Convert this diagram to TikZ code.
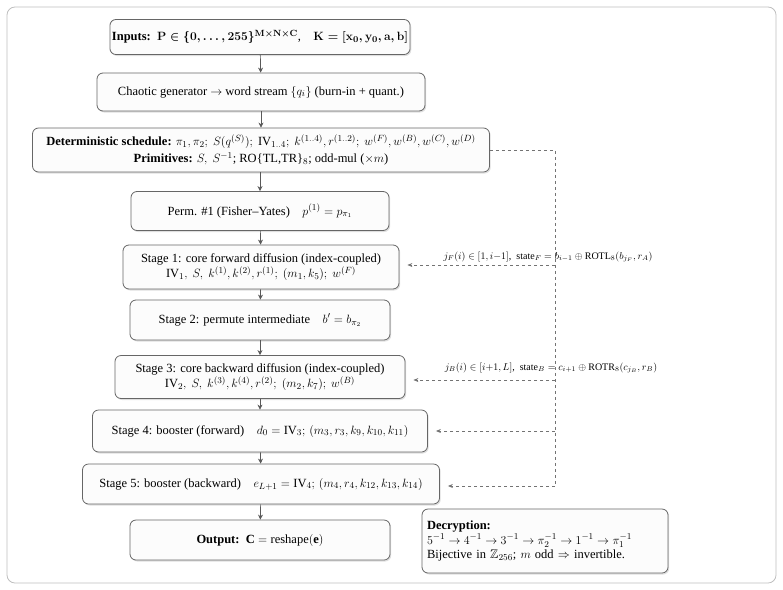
\documentclass[tikz,border=0pt]{standalone}
\usepackage{amssymb}
\usepackage{fontspec}
\setmainfont{Liberation Serif}
\usetikzlibrary{shadows,arrows.meta,calc}
\begin{document}
\begin{tikzpicture}[x=1pt,y=-1pt,
  box/.style={draw=black!60, line width=0.8pt, rounded corners=6pt, fill=black!1,
    drop shadow={opacity=0.25, shadow xshift=1.2pt, shadow yshift=-1.5pt},
    align=center, inner sep=2pt, font=\fontsize{12.5}{15}\selectfont},
  flow/.style={-{Stealth[length=5pt,width=5pt]}, draw=black!65, line width=0.7pt},
  sched/.style={dashed, draw=black!55, line width=0.7pt},
  schedarr/.style={sched, -{Stealth[length=5pt,width=4pt]}, shorten >=8pt},
  lab/.style={font=\fontsize{10}{11}\selectfont, inner sep=1pt}]
\useasboundingbox (0,0) rectangle (783,589);
\draw[black!25, line width=0.8pt, rounded corners=8pt] (7,7) rectangle (776,583);

\node[box, minimum width=296pt, minimum height=35pt] (in) at (260,37)
  {\textbf{Inputs:}\ \ {\boldmath$\mathbf{P}\in\{\mathbf{0},\ldots,\mathbf{255}\}^{\mathbf{M\times N\times C}}$},\quad {\boldmath$\mathbf{K}=[\mathbf{x_0},\mathbf{y_0},\mathbf{a},\mathbf{b}]$}};
\node[box, minimum width=328pt, minimum height=38pt] (gen) at (261,92)
  {Chaotic generator $\to$ word stream $\{q_i\}$ (burn-in + quant.)};
\node[box, minimum width=457pt, minimum height=44pt] (det) at (261,150)
  {\textbf{Deterministic schedule:} $\pi_1,\pi_2;\ S(q^{(S)});\ \mathrm{IV}_{1..4};\ k^{(1..4)}, r^{(1..2)};\ w^{(F)}, w^{(B)}, w^{(C)}, w^{(D)}$\\[1.5pt]
   \textbf{Primitives:} $S,\ S^{-1}$; RO\{TL,TR\}$_8$; odd-mul ($\times m$)};
\node[box, minimum width=258pt, minimum height=39pt] (perm) at (260,211)
  {Perm. \#1 (Fisher--Yates)\quad $p^{(1)}=p_{\pi_1}$};
\node[box, minimum width=276pt, minimum height=44pt] (s1) at (261,267)
  {Stage 1: core forward diffusion (index-coupled)\\
   $\mathrm{IV}_1,\ S,\ k^{(1)}, k^{(2)}, r^{(1)};\ (m_1,k_5);\ w^{(F)}$};
\node[box, minimum width=260pt, minimum height=40pt] (s2) at (260,320)
  {Stage 2: permute intermediate\quad $b'=b_{\pi_2}$};
\node[box, minimum width=290pt, minimum height=43pt] (s3) at (260,377)
  {Stage 3: core backward diffusion (index-coupled)\\
   $\mathrm{IV}_2,\ S,\ k^{(3)}, k^{(4)}, r^{(2)};\ (m_2,k_7);\ w^{(B)}$};
\node[box, minimum width=335pt, minimum height=42pt] (s4) at (260,431)
  {Stage 4: booster (forward)\quad $d_0=\mathrm{IV}_3;\,(m_3,r_3,k_9,k_{10},k_{11})$};
\node[box, minimum width=357pt, minimum height=40pt] (s5) at (261,484)
  {Stage 5: booster (backward)\quad $e_{L+1}=\mathrm{IV}_4;\,(m_4,r_4,k_{12},k_{13},k_{14})$};
\node[box, minimum width=260pt, minimum height=40pt] (out) at (260,540)
  {\textbf{Output:}\ \ $\mathbf{C}=\mathrm{reshape}(\mathbf{e})$};
\node[box, minimum width=246pt, minimum height=64pt, align=left, text width=236pt,
      font=\fontsize{12.5}{14.5}\selectfont] (dec) at (545,541)
  {\textbf{Decryption:}\\
   $5^{-1}\to4^{-1}\to3^{-1}\to\pi_2^{-1}\to1^{-1}\to\pi_1^{-1}$\\
   Bijective in $\mathbb{Z}_{256}$; $m$ odd $\Rightarrow$ invertible.};

\draw[flow] (in) -- (gen);
\draw[flow] (gen) -- (det);
\draw[flow] (det.south -| perm) -- (perm);
\draw[flow] (perm) -- (s1);
\draw[flow] (s1) -- (s2);
\draw[flow] (s2) -- (s3);
\draw[flow] (s3) -- (s4);
\draw[flow] (s4) -- (s5);
\draw[flow] (s5) -- (out);

\coordinate (c0) at (555,150);
\coordinate (c1) at (555,265);
\coordinate (c3) at (555,380);
\coordinate (c4) at (555,431);
\coordinate (c5) at (555,486);
\draw[sched] (det.east) -- (c0) -- (c5);
\draw[schedarr] (c1) -- (s1.east |- c1);
\draw[schedarr] (c3) -- (s3.east |- c3);
\draw[schedarr] (c4) -- (s4.east |- c4);
\draw[schedarr] (c5) -- (s5.east |- c5);
\node[lab] (l1) at (548,257) {$j_F(i)\in[1,i{-}1]$,\ \ state$_F=b_{i-1}\oplus\mathrm{ROTL}_8(b_{j_F},r_A)$};
\node[lab] (l3) at (551,368) {$j_B(i)\in[i{+}1,L]$,\ \ state$_B=c_{i+1}\oplus\mathrm{ROTR}_8(c_{j_B},r_B)$};
\end{tikzpicture}
\end{document}
